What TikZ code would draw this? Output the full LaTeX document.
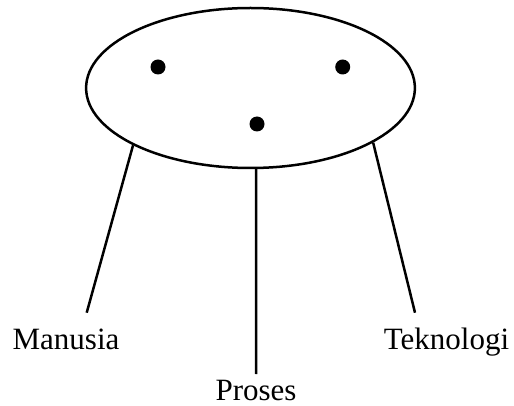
\documentclass[tikz,border=0pt]{standalone}
\usepackage{fontspec}
\setmainfont{Liberation Serif}
\usetikzlibrary{shapes.geometric}
\begin{document}
\begin{tikzpicture}[x=0.5pt, y=-0.5pt, line width=1.25pt,
	dot/.style={circle,fill,inner sep=0pt,minimum size=7.5pt},
	lbl/.style={anchor=base,inner sep=0pt,font=\fontsize{15.5}{18}\selectfont}]
	\useasboundingbox (0,0) rectangle (514,406);
	%ellipse with three points
	\node (ell) at (250.5, 88) [ellipse,draw,inner sep=0pt,minimum width=164.4pt,minimum height=80pt]{};
	\node (p1) at (158, 67) [dot]{};
	\node (p2) at (342.7, 67) [dot]{};
	\node (p3) at (257, 124) [dot]{};

	%legs
	\coordinate (endM) at (86.7, 312.7);
	\coordinate (endP) at (256, 374);
	\coordinate (endT) at (415, 312.7);
	\draw (ell.206.7) -- (endM);
	\draw (ell.-86) -- (endP);
	\draw (ell.-24.5) -- (endT);

	\node (manusia) at (66, 350) [lbl]{Manusia};
	\node (proses) at (256, 400) [lbl]{Proses};
	\node (teknologi) at (446.5, 350) [lbl]{Teknologi};
\end{tikzpicture}
\end{document}
